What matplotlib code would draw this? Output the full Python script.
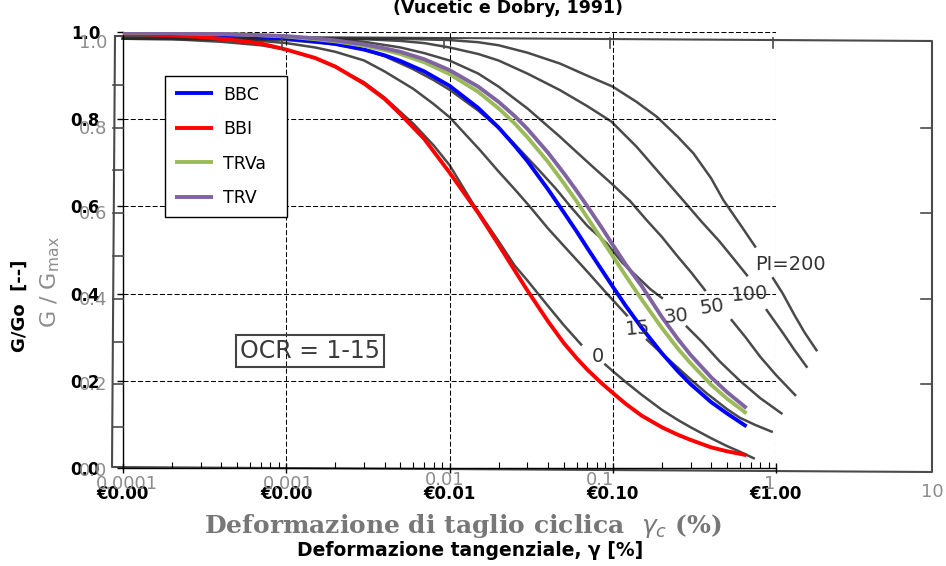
import matplotlib
matplotlib.use('Agg')
import matplotlib.pyplot as plt
from matplotlib.lines import Line2D
from matplotlib.ticker import LogLocator, NullFormatter
import numpy as np

W, H = 946, 566

# ---- curve data: deformazione tangenziale gamma [%] vs G/Go ----
gamma = [0.0001, 0.0002, 0.0003, 0.0005, 0.0007, 0.001, 0.0015, 0.002, 0.003, 0.004,
         0.005, 0.007, 0.01, 0.015, 0.02, 0.025, 0.03, 0.04, 0.05, 0.06,
         0.07, 0.085, 0.1, 0.12, 0.15, 0.2, 0.25, 0.3, 0.4, 0.5, 0.66]
bbc = [0.999, 0.997, 0.996, 0.993, 0.990, 0.986, 0.979, 0.973, 0.960, 0.947,
       0.934, 0.910, 0.877, 0.826, 0.781, 0.740, 0.704, 0.640, 0.587, 0.543,
       0.504, 0.456, 0.416, 0.372, 0.322, 0.263, 0.222, 0.192, 0.151, 0.125, 0.095]
bbi = [0.997, 0.993, 0.989, 0.981, 0.974, 0.960, 0.941, 0.921, 0.882, 0.847,
       0.812, 0.755, 0.678, 0.585, 0.512, 0.454, 0.407, 0.337, 0.287, 0.252,
       0.225, 0.195, 0.172, 0.147, 0.120, 0.093, 0.076, 0.064, 0.047, 0.038, 0.029]
trva = [0.999, 0.998, 0.997, 0.995, 0.993, 0.990, 0.984, 0.979, 0.969, 0.959,
        0.950, 0.931, 0.904, 0.863, 0.825, 0.791, 0.759, 0.703, 0.654, 0.612,
        0.574, 0.526, 0.486, 0.441, 0.387, 0.321, 0.274, 0.240, 0.191, 0.159, 0.125]
trv = [0.999, 0.998, 0.997, 0.995, 0.993, 0.991, 0.986, 0.981, 0.972, 0.963,
       0.955, 0.938, 0.913, 0.875, 0.840, 0.808, 0.778, 0.724, 0.677, 0.636,
       0.600, 0.553, 0.512, 0.467, 0.418, 0.346, 0.296, 0.259, 0.208, 0.174, 0.137]

series_names = ['BBC', 'BBI', 'TRVa', 'TRV']
series_colors = ['#0000FF', '#FF0000', '#9BBB59', '#8064A2']

# ---- curve Vucetic & Dobry (1991) dello sfondo: ramo prima / dopo l'etichetta PI ----
pi0_ga = [0.0001, 0.0002, 0.0004, 0.0007, 0.001, 0.0015, 0.002, 0.003, 0.004, 0.006,
          0.008, 0.01, 0.014, 0.02, 0.025, 0.03, 0.04, 0.05, 0.064]
pi0_Ga = [0.985, 0.984, 0.978, 0.970, 0.960, 0.940, 0.920, 0.885, 0.850, 0.790,
          0.740, 0.695, 0.605, 0.520, 0.465, 0.430, 0.372, 0.328, 0.283]
pi0_gb = [0.09, 0.1, 0.12, 0.15, 0.2, 0.25, 0.3, 0.4, 0.5, 0.6, 0.73]
pi0_Gb = [0.237, 0.222, 0.197, 0.168, 0.133, 0.110, 0.093, 0.068, 0.050, 0.037, 0.022]

pi15_ga = [0.0001, 0.0003, 0.0007, 0.001, 0.0015, 0.002, 0.003, 0.004, 0.006, 0.008,
           0.01, 0.0154, 0.02, 0.025, 0.031, 0.04, 0.05, 0.07, 0.092, 0.122]
pi15_Ga = [0.985, 0.984, 0.980, 0.975, 0.965, 0.955, 0.935, 0.910, 0.870, 0.835,
           0.805, 0.729, 0.680, 0.640, 0.600, 0.550, 0.510, 0.450, 0.400, 0.350]
pi15_gb = [0.162, 0.2, 0.25, 0.3, 0.376, 0.5, 0.6, 0.75, 0.94]
pi15_Gb = [0.294, 0.262, 0.230, 0.203, 0.171, 0.135, 0.115, 0.098, 0.083]

pi30_ga = [0.0001, 0.0005, 0.001, 0.002, 0.003, 0.004, 0.006, 0.008, 0.01, 0.015,
           0.02, 0.027, 0.035, 0.045, 0.055, 0.07, 0.092, 0.115, 0.14, 0.17, 0.2]
pi30_Ga = [0.985, 0.984, 0.982, 0.972, 0.960, 0.945, 0.915, 0.890, 0.868, 0.820,
           0.780, 0.730, 0.685, 0.640, 0.600, 0.555, 0.515, 0.470, 0.440, 0.410, 0.390]
pi30_gb = [0.284, 0.35, 0.45, 0.6, 0.8, 1.08]
pi30_Gb = [0.324, 0.290, 0.245, 0.200, 0.160, 0.125]

pi50_ga = [0.0001, 0.001, 0.002, 0.003, 0.005, 0.007, 0.01, 0.015, 0.02, 0.03,
           0.0475, 0.06, 0.076, 0.1, 0.128, 0.16, 0.2, 0.25, 0.3, 0.367]
pi50_Ga = [0.985, 0.985, 0.983, 0.978, 0.965, 0.952, 0.935, 0.905, 0.875, 0.825,
           0.760, 0.725, 0.690, 0.650, 0.612, 0.570, 0.530, 0.485, 0.450, 0.408]
pi50_gb = [0.535, 0.65, 0.8, 1.0, 1.31]
pi50_Gb = [0.339, 0.300, 0.255, 0.213, 0.167]

pi100_ga = [0.0001, 0.001, 0.003, 0.005, 0.007, 0.01, 0.015, 0.02, 0.03, 0.0475,
            0.07, 0.098, 0.14, 0.2, 0.27, 0.35, 0.45, 0.55, 0.664]
pi100_Ga = [0.985, 0.985, 0.984, 0.980, 0.975, 0.965, 0.950, 0.935, 0.905, 0.867,
            0.830, 0.795, 0.737, 0.670, 0.614, 0.565, 0.520, 0.480, 0.442]
pi100_gb = [0.877, 1.1, 1.3, 1.54]
pi100_Gb = [0.362, 0.310, 0.270, 0.232]

pi200_ga = [0.0001, 0.001, 0.005, 0.01, 0.015, 0.02, 0.03, 0.0475, 0.07, 0.1,
            0.14, 0.186, 0.25, 0.312, 0.4, 0.475, 0.6, 0.745]
pi200_Ga = [0.985, 0.985, 0.985, 0.982, 0.977, 0.970, 0.953, 0.928, 0.900, 0.875,
            0.840, 0.806, 0.760, 0.722, 0.665, 0.615, 0.560, 0.508]
pi200_gb = [0.96, 1.1, 1.3, 1.5, 1.77]
pi200_Gb = [0.435, 0.400, 0.350, 0.310, 0.270]

pi_labels = ['0', '15', '30', '50', '100', 'PI=200']

x_ticks = [0.0001, 0.001, 0.01, 0.1, 1]
x_tick_labels = ['€0.00', '€0.00', '€0.01', '€0.10', '€1.00']
y_ticks = [0.0, 0.2, 0.4, 0.6, 0.8, 1.0]
y_tick_labels = ['0.0', '0.2', '0.4', '0.6', '0.8', '1.0']
scan_x_labels = ['0.0001', '0.001', '0.01', '0.1', '1', '10']


def fx(px):
    return px / W


def fy(py):
    return 1 - py / H


fig = plt.figure(figsize=(W / 100, H / 100), dpi=100)
fig.patch.set_facecolor('white')
ax = fig.add_axes([fx(123), fy(467.8), (776 - 123) / W, (467.8 - 32.2) / H])
ax.set_xscale('log')
ax.set_xlim(1e-4, 1)
ax.set_ylim(0, 1)

# ---- immagine di sfondo (scansione): cornice, tacche, curve, scritte ----
SCAN = '#4a4a4a'
GHOST = '#8c8c8c'
fig.add_artist(Line2D([fx(115), fx(932), fx(932), fx(112), fx(115)],
                      [fy(36), fy(41), fy(472), fy(467), fy(36)],
                      color=SCAN, lw=1.5, zorder=0))
for px in [282, 444, 610, 773]:
    fig.add_artist(Line2D([fx(px), fx(px)], [fy(38), fy(48)], color=SCAN, lw=1.2))
for g in [0.2, 0.4, 0.6, 0.8]:
    py = 470 - 428 * g
    fig.add_artist(Line2D([fx(921), fx(932)], [fy(py), fy(py)], color=SCAN, lw=1.2))
for g in np.arange(0.1, 1.0, 0.1):
    py = 470 - 428 * g
    fig.add_artist(Line2D([fx(113), fx(123)], [fy(py), fy(py)], color=SCAN, lw=1.2))

vd_curves = [(pi0_ga, pi0_Ga, pi0_gb, pi0_Gb), (pi15_ga, pi15_Ga, pi15_gb, pi15_Gb),
             (pi30_ga, pi30_Ga, pi30_gb, pi30_Gb), (pi50_ga, pi50_Ga, pi50_gb, pi50_Gb),
             (pi100_ga, pi100_Ga, pi100_gb, pi100_Gb), (pi200_ga, pi200_Ga, pi200_gb, pi200_Gb)]
for ga, Ga, gb, Gb in vd_curves:
    ax.plot(ga, Ga, color='#2a2a2a', lw=1.8, alpha=0.85, zorder=1, clip_on=False)
    ax.plot(gb, Gb, color='#2a2a2a', lw=1.8, alpha=0.85, zorder=1, clip_on=False)

pi_pos = [(598, 357, 0), (638, 328, 5), (676, 316, 6), (712, 307, 8), (750, 294, 4), (790, 265, 0)]
for lab, (px, py, rot) in zip(pi_labels, pi_pos):
    fig.text(fx(px), fy(py), lab, ha='center', va='center', fontsize=14,
             color='#333333', rotation=rot, zorder=1)

fig.text(fx(310), fy(351), 'OCR = 1-15', ha='center', va='center', fontsize=17,
         color='#3a3a3a', bbox=dict(boxstyle='square,pad=0.15', fc='none', ec='#444444', lw=1.5))

for g, lab in zip(y_ticks, y_tick_labels):
    fig.text(fx(107), fy(470 - 428 * g + 1), lab, ha='right', va='center',
             fontsize=13, color=GHOST)
scan_x_pos = [(127, 484), (288, 484), (445, 480), (600, 480), (770, 484), (932, 492)]
for lab, (px, py) in zip(scan_x_labels, scan_x_pos):
    fig.text(fx(px), fy(py), lab, ha='center', va='center', fontsize=13, color=GHOST)

fig.text(fx(463), fy(526), r'Deformazione di taglio ciclica  $\gamma_c$ (%)', ha='center',
         va='center', fontsize=18, family='DejaVu Serif', fontweight='bold', color='#777777')
fig.text(fx(50), fy(282), r'G / G$_{\mathrm{max}}$', rotation=90, ha='center', va='center',
         fontsize=16, color=GHOST)

# ---- serie ----
handles = []
for name, vals, col in zip(series_names, [bbc, bbi, trva, trv], series_colors):
    ln, = ax.plot(gamma, vals, color=col, lw=2.8, label=name, zorder=3,
                  solid_capstyle='butt', solid_joinstyle='round')
    handles.append(ln)

# ---- assi ----
ax.patch.set_alpha(0)
ax.grid(True, which='major', color='black', lw=0.75, linestyle=(0, (4.8, 2.2)))
ax.set_xticks(x_ticks)
ax.set_xticklabels(x_tick_labels)
ax.xaxis.set_minor_locator(LogLocator(base=10, subs=np.arange(2, 10)))
ax.xaxis.set_minor_formatter(NullFormatter())
ax.tick_params(axis='x', which='major', direction='inout', length=7, width=1, pad=9, labelsize=12)
ax.tick_params(axis='x', which='minor', direction='in', length=4, width=0.8)
ax.set_yticks(y_ticks)
ax.set_yticklabels(y_tick_labels)
ax.tick_params(axis='y', direction='out', length=4, width=1, pad=12.5, labelsize=12)
for lab in ax.get_xticklabels() + ax.get_yticklabels():
    lab.set_fontweight('bold')
for side in ['top', 'right']:
    ax.spines[side].set_visible(False)
for side in ['left', 'bottom']:
    ax.spines[side].set_color('black')
    ax.spines[side].set_linewidth(1.0)

fig.text(fx(20), fy(306), 'G/Go  [--]', rotation=90, ha='center', va='center',
         fontsize=13, fontweight='bold')
fig.text(fx(470), fy(550), 'Deformazione tangenziale, γ [%]', ha='center', va='center',
         fontsize=13.5, fontweight='bold')
fig.text(fx(508), fy(13), '(Vucetic e Dobry, 1991)', ha='center', va='baseline',
         fontsize=12.5, fontweight='bold')

leg = ax.legend(handles=handles, loc='upper left',
                bbox_to_anchor=(fx(165), fy(215), (287 - 165) / W, (215 - 76) / H),
                bbox_transform=fig.transFigure, mode='expand', frameon=True, fancybox=False,
                edgecolor='black', framealpha=1, fontsize=12.5, handlelength=2.2,
                handletextpad=0.6, labelspacing=0.95, borderpad=0.55, borderaxespad=0)
leg.get_frame().set_linewidth(1.0)
leg.set_zorder(5)

fig.savefig('out.png', dpi=100, facecolor='white')
